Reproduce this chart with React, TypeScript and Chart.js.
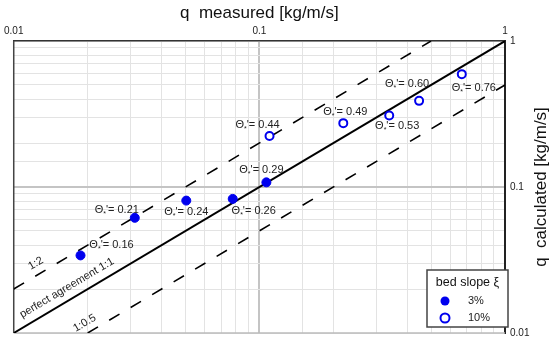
import React, { useEffect, useRef } from 'react';
import { Chart, registerables } from 'chart.js';

Chart.register(...registerables);

const FONT = '"Liberation Sans", Arial, Helvetica, sans-serif';

// Axis range (log-log)
const axisMin = 0.01;
const axisMax = 1;

// bed slope 3 % (filled points)
const slope3Measured = [0.0187, 0.0311, 0.0504, 0.0779, 0.1068];
const slope3Calculated = [0.034, 0.0615, 0.0807, 0.0829, 0.1076];
const slope3Theta = ['0.16', '0.21', '0.24', '0.26', '0.29'];

// bed slope 10 % (open points)
const slope10Measured = [0.11, 0.2196, 0.3378, 0.447, 0.667];
const slope10Calculated = [0.2234, 0.2738, 0.309, 0.389, 0.593];
const slope10Theta = ['0.44', '0.49', '0.53', '0.60', '0.76'];

// reference lines y = ratio * x
const refRatios = [1, 2, 0.5];
const refNames = ['perfect agreement 1:1', '1:2', '1:0.5'];
const refLabelAt = [0.0174, 0.01295, 0.0204]; // x value where the line label sits

const legendTitle = 'bed slope ξ';
const legendItems = ['3%', '10%'];

// layout only (pixel offsets of annotation labels from their point)
const theta3Offsets = [[31, -10], [-18, -8], [0, 11], [21, 12], [-5, -12]];
const theta10Offsets = [[-12, -11], [2, -11], [8, 11], [-12, -17], [12, 14]];
const refLabelNormal = [11.5, 10.8, 10];

const BLUE = '#0000ee';

const isMajor = (v: number) => Math.abs(Math.log10(v) - Math.round(Math.log10(v))) < 1e-6;
const fmt = (v: number) => String(Number(v.toPrecision(1)));

function refLine(r: number) {
  const x0 = Math.max(axisMin, axisMin / r);
  const x1 = Math.min(axisMax, axisMax / r);
  return [{ x: x0, y: r * x0 }, { x: x1, y: r * x1 }];
}

function drawTheta(ctx: CanvasRenderingContext2D, cx: number, cy: number, value: string) {
  const big = '11px ' + FONT;
  const small = '7px ' + FONT;
  const rest = "'= " + value;
  ctx.font = big;
  const w1 = ctx.measureText('Θ').width;
  const w3 = ctx.measureText(rest).width;
  ctx.font = small;
  const w2 = ctx.measureText('*').width;
  let x = cx - (w1 + w2 + w3) / 2;
  ctx.textAlign = 'left';
  ctx.textBaseline = 'middle';
  ctx.fillStyle = '#222';
  ctx.font = big;
  ctx.fillText('Θ', x, cy);
  x += w1;
  ctx.font = small;
  ctx.fillText('*', x, cy + 4);
  x += w2;
  ctx.font = big;
  ctx.fillText(rest, x, cy);
}

const annotationPlugin = {
  id: 'annotations',
  beforeDatasetsDraw(chart: any) {
    const { ctx, chartArea } = chart;
    ctx.save();
    ctx.lineWidth = 1.5;
    ctx.strokeStyle = '#bbbbbb';
    ctx.beginPath();
    ctx.moveTo(chartArea.left, chartArea.bottom);
    ctx.lineTo(chartArea.right, chartArea.bottom);
    ctx.stroke();
    ctx.strokeStyle = '#444';
    ctx.beginPath();
    ctx.moveTo(chartArea.left, chartArea.top);
    ctx.lineTo(chartArea.left, chartArea.bottom);
    ctx.stroke();
    ctx.restore();
  },
  afterDatasetsDraw(chart: any) {
    const { ctx, chartArea } = chart;
    const xs = chart.scales.x;
    const ys = chart.scales.y;
    ctx.save();
    slope3Measured.forEach((v, i) => {
      drawTheta(ctx, xs.getPixelForValue(v) + theta3Offsets[i][0], ys.getPixelForValue(slope3Calculated[i]) + theta3Offsets[i][1], slope3Theta[i]);
    });
    slope10Measured.forEach((v, i) => {
      drawTheta(ctx, xs.getPixelForValue(v) + theta10Offsets[i][0], ys.getPixelForValue(slope10Calculated[i]) + theta10Offsets[i][1], slope10Theta[i]);
    });

    // reference line labels
    refRatios.forEach((r, i) => {
      const pts = refLine(r);
      const p0x = xs.getPixelForValue(pts[0].x), p0y = ys.getPixelForValue(pts[0].y);
      const p1x = xs.getPixelForValue(pts[1].x), p1y = ys.getPixelForValue(pts[1].y);
      const ang = Math.atan2(p1y - p0y, p1x - p0x);
      const ax = xs.getPixelForValue(refLabelAt[i]);
      const ay = ys.getPixelForValue(r * refLabelAt[i]);
      const nx = Math.sin(ang), ny = -Math.cos(ang);
      ctx.save();
      ctx.translate(ax + nx * refLabelNormal[i], ay + ny * refLabelNormal[i]);
      ctx.rotate(ang);
      ctx.font = '11px ' + FONT;
      ctx.fillStyle = '#222';
      ctx.textAlign = 'center';
      ctx.textBaseline = 'middle';
      ctx.fillText(refNames[i], 0, 0);
      ctx.restore();
    });

    // legend
    const bx = chartArea.right - 78, by = chartArea.bottom - 63, bw = 81, bh = 57;
    ctx.fillStyle = '#fff';
    ctx.fillRect(bx, by, bw, bh);
    ctx.strokeStyle = '#444';
    ctx.lineWidth = 1.5;
    ctx.strokeRect(bx, by, bw, bh);
    ctx.fillStyle = '#111';
    ctx.font = '12.5px ' + FONT;
    ctx.textAlign = 'center';
    ctx.textBaseline = 'middle';
    ctx.fillText(legendTitle, bx + bw / 2, by + 13);
    ctx.font = '11px ' + FONT;
    ctx.textAlign = 'left';
    legendItems.forEach((t, i) => {
      const cy = by + 31 + i * 17;
      ctx.beginPath();
      ctx.arc(bx + 18, cy, 4.5, 0, Math.PI * 2);
      if (i === 0) {
        ctx.fillStyle = BLUE;
        ctx.fill();
      } else {
        ctx.fillStyle = '#fff';
        ctx.fill();
        ctx.strokeStyle = BLUE;
        ctx.lineWidth = 2;
        ctx.stroke();
      }
      ctx.fillStyle = '#222';
      ctx.fillText(t, bx + 41, cy);
    });

    // right axis title (reads bottom to top)
    ctx.save();
    ctx.translate(541, (chartArea.top + chartArea.bottom) / 2);
    ctx.rotate(-Math.PI / 2);
    ctx.font = '17px ' + FONT;
    ctx.fillStyle = '#111';
    ctx.textAlign = 'center';
    ctx.textBaseline = 'middle';
    ctx.fillText('q  calculated [kg/m/s]', 0, 0);
    ctx.restore();
    ctx.restore();
  },
};

function gridColor(ctx: any) {
  const v = ctx.tick ? ctx.tick.value : 0;
  if (Math.abs(v - 0.1) < 1e-9) return '#c4c4c4';
  return '#e3e3e3';
}
function gridWidth(ctx: any) {
  const v = ctx.tick ? ctx.tick.value : 0;
  if (Math.abs(v - 0.1) < 1e-9) return 2;
  return 1;
}

export default function App() {
  const ref = useRef<HTMLCanvasElement>(null);
  useEffect(() => {
    document.body.style.margin = '0';
    const canvas = ref.current!;
    const chart = new Chart(canvas, {
      type: 'scatter',
      data: {
        datasets: [
          {
            label: '3%',
            data: slope3Measured.map((x, i) => ({ x, y: slope3Calculated[i] })),
            backgroundColor: BLUE,
            borderColor: BLUE,
            pointRadius: 4.5,
            showLine: false,
          },
          {
            label: '10%',
            data: slope10Measured.map((x, i) => ({ x, y: slope10Calculated[i] })),
            backgroundColor: '#fff',
            borderColor: BLUE,
            borderWidth: 2,
            pointRadius: 4,
            showLine: false,
          },
          ...refRatios.map((r, i) => ({
            label: refNames[i],
            data: refLine(r),
            showLine: true,
            borderColor: '#000',
            borderWidth: r === 1 ? 2 : 1.6,
            borderDash: r === 1 ? [] : [12, 13],
            pointRadius: 0,
            fill: false,
          })),
        ],
      } as any,
      options: {
        animation: false,
        responsive: false,
        layout: { padding: { left: 13, top: 0, right: 0, bottom: 9 } },
        plugins: { legend: { display: false }, tooltip: { enabled: false } },
        scales: {
          x: {
            type: 'logarithmic',
            position: 'top',
            min: axisMin,
            max: axisMax,
            afterFit: (s: any) => { s.height = 41; },
            ticks: {
              autoSkip: false,
              maxRotation: 0,
              padding: 4,
              color: '#222',
              font: { size: 10, family: FONT },
              callback: (v: any) => (isMajor(Number(v)) ? fmt(Number(v)) : ''),
            },
            grid: { drawTicks: false, color: gridColor, lineWidth: gridWidth },
            border: { display: true, color: '#333', width: 1.5 },
            title: {
              display: true,
              text: 'q  measured [kg/m/s]',
              color: '#111',
              font: { size: 17, family: FONT },
              padding: { top: 3, bottom: 0 },
            },
          },
          y: {
            type: 'logarithmic',
            position: 'right',
            min: axisMin,
            max: axisMax,
            afterFit: (s: any) => { s.width = 45; },
            ticks: {
              autoSkip: false,
              padding: 5,
              color: '#222',
              font: { size: 10, family: FONT },
              callback: (v: any) => (isMajor(Number(v)) ? fmt(Number(v)) : ''),
            },
            grid: { drawTicks: false, color: gridColor, lineWidth: gridWidth },
            border: { display: true, color: '#222', width: 2 },
            title: { display: false },
          },
        },
      } as any,
      plugins: [annotationPlugin],
    });
    return () => chart.destroy();
  }, []);
  return (
    <div style={{ width: 550, height: 344, background: '#fff' }}>
      <canvas ref={ref} width={550} height={344} />
    </div>
  );
}
